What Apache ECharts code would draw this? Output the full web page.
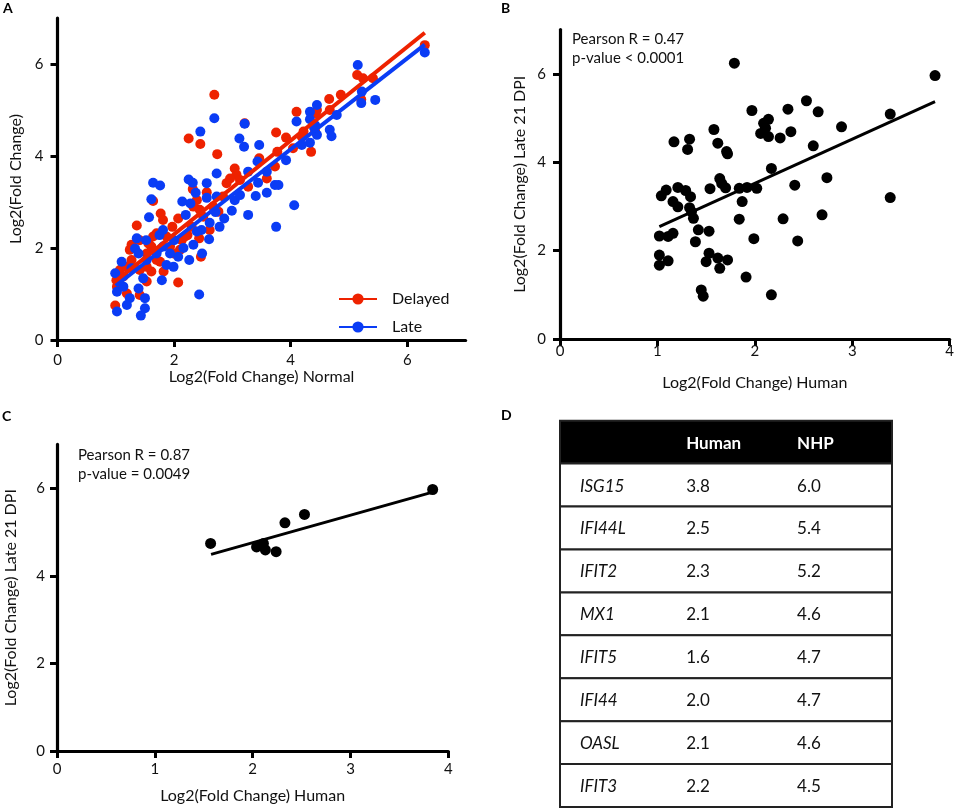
<!DOCTYPE html>
<html><head><meta charset="utf-8">
<script src="https://cdn.jsdelivr.net/npm/echarts@6/dist/echarts.min.js"></script>
<style>html,body{margin:0;padding:0;background:#fff}#c{width:957px;height:808px}</style>
</head><body><div id="c"></div>
<script>
// ---------- DATA ----------
const delayedPts = [[2.69,5.33],[2.25,4.38],[2.45,4.26],[2.74,4.04],[1.64,3.02],[1.77,2.75],[1.81,2.61],[1.36,2.49],[2.07,2.64],[1.97,2.46],[2.07,1.25],[2.46,1.81],[0.99,0.75],[1.41,0.98],[3.04,3.73],[3.07,3.59],[3.21,4.71],[3.27,3.33],[3.46,3.95],[3.59,3.51],[3.73,3.77],[3.75,4.51],[3.92,4.40],[3.77,4.09],[4.10,4.96],[4.04,4.17],[4.35,4.09],[4.19,4.42],[4.43,4.93],[4.42,4.53],[4.66,5.24],[4.67,5.00],[4.86,5.33],[5.14,5.76],[5.24,5.69],[5.41,5.69],[5.21,5.23],[6.30,6.41],[2.32,3.28],[2.39,3.04],[2.56,3.21],[2.61,2.39],[2.43,2.21],[2.23,2.28],[2.13,2.17],[1.93,2.03],[1.61,2.03],[1.53,1.88],[1.76,1.70],[1.82,1.49],[1.61,1.49],[1.53,1.27],[1.24,1.96],[1.27,1.74],[1.07,1.52],[1.13,1.38],[1.02,1.16],[1.19,1.01],[1.56,2.10],[1.70,2.32],[2.96,3.51],[2.84,3.12],[2.76,2.79],[2.44,2.83],[1.27,2.07],[1.41,2.17],[1.87,2.25],[2.19,2.25],[1.64,2.25],[2.10,1.96],[2.30,2.46],[2.50,2.68],[2.67,2.90],[2.33,2.90],[1.01,1.30],[1.19,1.59],[1.41,1.52],[1.53,1.59],[1.70,1.74],[1.99,1.88],[2.90,3.41],[3.13,3.48],[4.45,5.00],[4.22,4.53]];
const latePts = [[2.69,4.82],[2.45,4.53],[3.21,4.70],[3.12,4.38],[3.20,4.20],[3.46,4.24],[3.43,3.88],[3.27,3.66],[3.59,3.66],[3.44,3.42],[3.59,3.20],[3.40,3.13],[3.27,2.72],[3.73,3.37],[3.79,3.37],[3.75,2.46],[4.06,2.93],[3.92,3.91],[4.10,4.75],[4.33,4.96],[4.45,5.11],[4.42,4.67],[4.33,4.29],[4.19,4.24],[4.45,4.46],[4.67,4.57],[4.70,4.43],[4.79,4.89],[5.15,5.98],[5.22,5.40],[5.21,5.15],[5.45,5.22],[6.30,6.25],[2.56,3.41],[2.73,3.62],[2.25,3.49],[2.32,3.42],[2.37,3.20],[2.56,3.09],[2.73,3.12],[2.14,3.01],[2.28,2.97],[2.20,2.72],[2.71,2.78],[2.86,2.64],[2.78,2.46],[2.99,2.81],[3.04,3.04],[3.13,3.15],[2.61,2.55],[2.60,2.19],[2.47,2.39],[2.39,2.36],[2.33,2.07],[2.26,1.74],[2.48,1.88],[2.43,0.99],[2.16,2.00],[2.07,1.81],[1.99,1.59],[1.87,1.63],[1.79,1.30],[1.64,3.42],[1.76,3.36],[1.61,3.06],[1.57,2.67],[1.75,2.28],[1.81,2.39],[1.52,2.17],[1.36,2.21],[1.33,1.99],[1.39,1.88],[1.53,1.74],[1.70,1.88],[1.47,1.34],[1.39,1.12],[1.50,0.91],[1.50,0.69],[1.43,0.53],[1.24,0.91],[1.19,0.76],[1.02,0.62],[1.02,1.05],[0.99,1.45],[1.10,1.70],[1.13,1.16],[1.27,1.56],[1.93,1.88],[2.00,2.17],[1.81,2.03],[4.33,4.80],[4.40,4.62]];
const delayedFit = [[1.0,1.28],[6.3,6.68]];
const lateFit = [[1.0,1.18],[6.3,6.42]];

const humanNhpPts = [[1.79,6.24],[3.85,5.96],[2.53,5.39],[2.34,5.20],[1.97,5.17],[2.65,5.14],[3.39,5.09],[2.14,4.97],[2.09,4.88],[2.11,4.77],[2.06,4.65],[2.14,4.58],[2.26,4.55],[2.37,4.69],[2.89,4.80],[1.58,4.74],[2.60,4.37],[1.17,4.46],[1.33,4.52],[1.31,4.29],[1.62,4.43],[1.71,4.24],[1.72,4.19],[2.17,3.86],[2.74,3.65],[1.64,3.63],[1.66,3.52],[1.70,3.42],[1.54,3.40],[1.84,3.41],[1.92,3.43],[2.02,3.41],[2.41,3.48],[3.39,3.20],[1.09,3.37],[1.04,3.24],[1.21,3.43],[1.29,3.36],[1.34,3.22],[1.16,3.11],[1.21,2.99],[1.33,2.97],[1.35,2.88],[1.37,2.73],[1.87,3.11],[1.84,2.71],[2.29,2.72],[2.69,2.81],[1.02,2.33],[1.11,2.32],[1.16,2.39],[1.42,2.47],[1.53,2.44],[1.39,2.20],[1.99,2.27],[2.44,2.22],[1.02,1.90],[1.02,1.67],[1.11,1.77],[1.53,1.94],[1.50,1.75],[1.62,1.83],[1.64,1.60],[1.72,1.79],[1.91,1.40],[1.45,1.11],[1.47,0.97],[2.17,1.00]];
const humanNhpFit = [[1.02,2.54],[3.85,5.37]];

const topGenePts = [[1.57,4.74],[3.84,5.97],[2.53,5.40],[2.33,5.21],[2.04,4.66],[2.11,4.74],[2.13,4.59],[2.24,4.55]];
const topGeneFit = [[1.575,4.49],[3.84,5.91]];

const genes = ['ISG15','IFI44L','IFIT2','MX1','IFIT5','IFI44','OASL','IFIT3'];
const humanVals = ['3.8','2.5','2.3','2.1','1.6','2.0','2.1','2.2'];
const nhpVals = ['6.0','5.4','5.2','4.6','4.7','4.7','4.6','4.5'];
const tableHeader = ['', 'Human', 'NHP'];

const ticksA = [0,2,4,6];
const ticksX14 = [0,1,2,3,4];
const ticksY = [0,2,4,6];

// ---------- STYLE ----------
const FONT = 'Lato, "Open Sans", sans-serif';
const RED = '#EE2200';
const BLUE = '#0A3CF5';
const INK = '#111';

function vAxis(gi, max, ticks, name, nameGap, margin) {
  return {
    type: 'value', gridIndex: gi, min: 0, max: max,
    name: name, nameLocation: 'middle', nameGap: nameGap,
    nameTextStyle: {fontFamily: FONT, fontSize: 16, color: INK},
    axisLine: {show: true, onZero: false, lineStyle: {color: '#000', width: 3.2}},
    axisTick: {show: true, length: 7, lineStyle: {color: '#000', width: 3}, customValues: ticks},
    axisLabel: {fontFamily: FONT, fontSize: 15, color: INK, margin: margin, customValues: ticks},
    splitLine: {show: false}
  };
}

const tableRows = ['hdr'].concat(genes);
const colFrac = [0.06, 0.38, 0.714];

const option = {
  animation: false,
  backgroundColor: '#fff',
  grid: [
    {left: 57.5, top: 18, right: 491.4, bottom: 468},
    {left: 560, top: 29.6, right: 5, bottom: 469},
    {left: 57, top: 444.4, right: 508.7, bottom: 57},
    {left: 560, top: 420.7, right: 65, bottom: 1}
  ],
  xAxis: [
    vAxis(0, 7, ticksA, 'Log2(Fold Change) Normal', 27, 13),
    vAxis(1, 4, ticksX14, 'Log2(Fold Change) Human', 36, 5),
    vAxis(2, 4, ticksX14, 'Log2(Fold Change) Human', 37, 11),
    {type: 'value', gridIndex: 3, min: 0, max: 1, show: false}
  ],
  yAxis: [
    vAxis(0, 7, ticksY, 'Log2(Fold Change)', 34, 14),
    vAxis(1, 7, ticksY, 'Log2(Fold Change) Late 21 DPI', 32, 14),
    vAxis(2, 7, ticksY, 'Log2(Fold Change) Late 21 DPI', 38, 12),
    {type: 'category', gridIndex: 3, data: tableRows, inverse: true, show: false}
  ],
  legend: {
    data: ['Delayed', 'Late'], orient: 'vertical', left: 333, top: 286,
    itemWidth: 38, itemHeight: 14, itemGap: 12,
    textStyle: {fontFamily: FONT, fontSize: 16, color: INK, padding: [0, 0, 0, 10]}
  },
  graphic: [
    {type: 'text', x: 3, y: 1, style: {text: 'A', font: 'bold 14px ' + FONT, fill: '#000', verticalAlign: 'top'}},
    {type: 'text', x: 501, y: 1, style: {text: 'B', font: 'bold 14px ' + FONT, fill: '#000', verticalAlign: 'top'}},
    {type: 'text', x: 2, y: 409, style: {text: 'C', font: 'bold 14px ' + FONT, fill: '#000', verticalAlign: 'top'}},
    {type: 'text', x: 501, y: 408, style: {text: 'D', font: 'bold 14px ' + FONT, fill: '#000', verticalAlign: 'top'}},
    {type: 'text', x: 572, y: 30, style: {text: 'Pearson R = 0.47\np-value < 0.0001', font: '15px ' + FONT, lineHeight: 18.5, fill: INK, verticalAlign: 'top'}},
    {type: 'text', x: 78, y: 446, style: {text: 'Pearson R = 0.87\np-value = 0.0049', font: '15px ' + FONT, lineHeight: 18.5, fill: INK, verticalAlign: 'top'}}
  ],
  series: [
    {type: 'scatter', name: 'Delayed points', xAxisIndex: 0, yAxisIndex: 0, data: delayedPts, symbolSize: 10, itemStyle: {color: RED, opacity: 1}, z: 2},
    {type: 'scatter', name: 'Late points', xAxisIndex: 0, yAxisIndex: 0, data: latePts, symbolSize: 10, itemStyle: {color: BLUE, opacity: 1}, z: 3},
    {type: 'line', name: 'Delayed', xAxisIndex: 0, yAxisIndex: 0, data: delayedFit, symbol: 'circle', symbolSize: 10, showSymbol: false, lineStyle: {color: RED, width: 4}, itemStyle: {color: RED}, z: 4},
    {type: 'line', name: 'Late', xAxisIndex: 0, yAxisIndex: 0, data: lateFit, symbol: 'circle', symbolSize: 10, showSymbol: false, lineStyle: {color: BLUE, width: 4}, itemStyle: {color: BLUE}, z: 5},

    {type: 'scatter', name: 'B points', xAxisIndex: 1, yAxisIndex: 1, data: humanNhpPts, symbolSize: 11, itemStyle: {color: '#000', opacity: 1}},
    {type: 'line', name: 'B fit', xAxisIndex: 1, yAxisIndex: 1, data: humanNhpFit, showSymbol: false, symbol: 'none', lineStyle: {color: '#000', width: 3}},

    {type: 'scatter', name: 'C points', xAxisIndex: 2, yAxisIndex: 2, data: topGenePts, symbolSize: 11, itemStyle: {color: '#000', opacity: 1}},
    {type: 'line', name: 'C fit', xAxisIndex: 2, yAxisIndex: 2, data: topGeneFit, showSymbol: false, symbol: 'none', lineStyle: {color: '#000', width: 3}},

    {
      type: 'custom', name: 'table', xAxisIndex: 3, yAxisIndex: 3,
      data: tableRows.map((r, i) => [0, i]),
      renderItem: function (params, api) {
        const row = api.value(1);
        const cs = params.coordSys;
        const c = api.coord([0, row]);
        const h = api.size([0, 1])[1];
        const top = c[1] - h / 2;
        const hdr = row === 0;
        const texts = hdr ? tableHeader : [genes[row - 1], humanVals[row - 1], nhpVals[row - 1]];
        const children = [{
          type: 'rect', shape: {x: cs.x, y: top, width: cs.width, height: h},
          style: {fill: hdr ? '#000' : '#fff', stroke: '#222', lineWidth: 2}
        }];
        texts.forEach(function (t, i) {
          const p = api.coord([colFrac[i], row]);
          let font;
          if (hdr) font = 'bold 17px ' + FONT;
          else if (i === 0) font = 'italic 17px ' + FONT;
          else font = '17px ' + FONT;
          children.push({type: 'text', style: {text: t, x: p[0], y: p[1] + 1, align: 'left', verticalAlign: 'middle', font: font, fill: hdr ? '#fff' : INK}});
        });
        return {type: 'group', children: children};
      }
    }
  ]
};

const chart = echarts.init(document.getElementById('c'), null, {renderer: 'canvas'});
chart.setOption(option);
</script>
</body></html>
